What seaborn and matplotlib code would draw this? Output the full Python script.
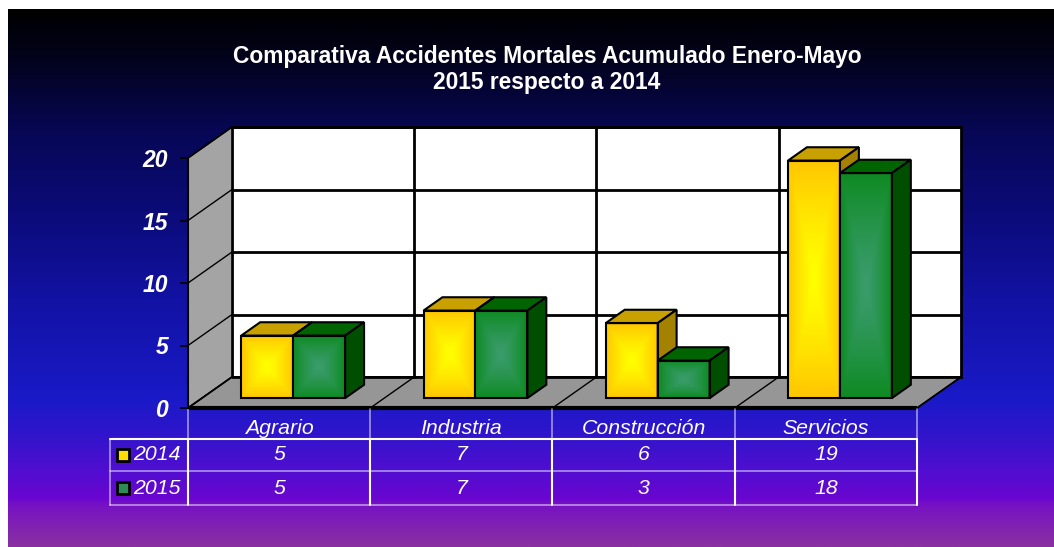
import numpy as np
import pandas as pd
import matplotlib
matplotlib.use("Agg")
import matplotlib.pyplot as plt
import matplotlib.transforms as mtransforms
from matplotlib.colors import LinearSegmentedColormap, to_rgb
from matplotlib.lines import Line2D
from matplotlib.patches import Polygon, Rectangle
import seaborn as sns

# data
categories = ["Agrario", "Industria", "Construcción", "Servicios"]
years = ["2014", "2015"]
values_2014 = [5, 7, 6, 19]
values_2015 = [5, 7, 3, 18]
y_ticks = [0, 5, 10, 15, 20]
title = "Comparativa Accidentes Mortales Acumulado Enero-Mayo\n2015 respecto a 2014"

# layout (pixels of the 1054x547 canvas)
W, H = 1054, 547
PX_CAT = 182.25          # pixels per category on the front plane
PX_UNIT = 12.5           # pixels per value unit
X0_PX, Y0_PX = 188, 408  # front-left corner of the floor
DX = 44 / PX_CAT         # full depth shift, data units
DY = 31 / PX_UNIT
D_FRONT, D_BACK = 0.32, 0.75

face_colors = {"2014": ("#ffff00", "#ffc600"), "2015": ("#3a9c6c", "#0e8a22")}
top_colors = {"2014": "#c8a000", "2015": "#006400"}
side_colors = {"2014": "#a48200", "2015": "#004f00"}
legend_colors = {"2014": "#ffdd00", "2015": "#2e8b57"}

sns.set_theme(style="white")
plt.rcParams["font.family"] = ["Liberation Sans", "DejaVu Sans"]

fig = plt.figure(figsize=(W / 100, H / 100), dpi=100, facecolor="white")

# gradient background
bg = fig.add_axes([8 / W, 0, 1 - 8 / W, 1 - 9 / H])
stops = [(0.0, "#000000"), (0.095, "#03031e"), (0.225, "#070755"), (0.374, "#0b0b78"),
         (0.541, "#1212a4"), (0.727, "#1a1ac8"), (0.801, "#3414cc"), (0.857, "#500ed0"),
         (0.913, "#6a06d0"), (0.924, "#7612c2"), (1.0, "#8a30a2")]
bg.imshow(np.linspace(0, 1, 600)[:, None], aspect="auto",
          cmap=LinearSegmentedColormap.from_list("bg", stops), extent=(0, 1, 0, 1))
bg.axis("off")

ax = fig.add_axes([0, 0, 1, 1])
ax.set_facecolor("none")

df = pd.DataFrame({
    "categoria": categories * 2,
    "anio": [y for y in years for _ in categories],
    "valor": values_2014 + values_2015,
})
sns.barplot(data=df, x="categoria", y="valor", hue="anio", order=categories,
            hue_order=years, width=0.57, saturation=1, legend=False, ax=ax)


def at(x, v, d):
    return (x + d * DX, v + d * DY)


# walls and floor
left, right = -0.5, len(categories) - 0.5
top = y_ticks[-1]
ax.add_patch(Polygon([at(left, 0, 1), at(right, 0, 1), at(right, top, 1), at(left, top, 1)],
                     closed=True, facecolor="white", edgecolor="black", lw=2, zorder=1))
ax.add_patch(Polygon([at(left, 0, 0), at(left, 0, 1), at(left, top, 1), at(left, top, 0)],
                     closed=True, facecolor="#a4a4a4", edgecolor="black", lw=1.2, zorder=1))
ax.add_patch(Polygon([at(left, 0, 0), at(right, 0, 0), at(right, 0, 1), at(left, 0, 1)],
                     closed=True, facecolor="#969696", edgecolor="black", lw=1.2, zorder=1))
for v in y_ticks:
    ax.plot(*zip(at(left, v, 1), at(right, v, 1)), color="black", lw=2, zorder=1.2)
    ax.plot(*zip(at(left, v, 0), at(left, v, 1)), color="black", lw=1, zorder=1.2)
for b in np.arange(len(categories) - 1) + 0.5:
    ax.plot(*zip(at(b, 0, 1), at(b, top, 1)), color="black", lw=2, zorder=1.2)
for b in np.arange(len(categories)) + 0.5:
    ax.plot(*zip(at(b, 0, 0), at(b, 0, 1)), color="black", lw=1, zorder=1.2)
ax.plot([left, right], [0, 0], color="black", lw=3, zorder=1.3, solid_capstyle="butt")

# 3d bars built on the seaborn rectangles
front_tr = mtransforms.Affine2D().translate(D_FRONT * DX, D_FRONT * DY) + ax.transData
u = np.linspace(-1, 1, 80)
t = np.maximum(np.abs(u)[None, :], np.abs(u)[:, None]) ** 1.3
for h, year in enumerate(years):
    c_in, c_out = (np.array(to_rgb(c)) for c in face_colors[year])
    img = c_in + (c_out - c_in) * t[..., None]
    for i, bar in enumerate(ax.containers[h]):
        x0, w, v = bar.get_x(), bar.get_width(), bar.get_height()
        z = 10 + i * 2 + h
        bar.set_transform(front_tr)
        bar.set_facecolor("none")
        bar.set_edgecolor("black")
        bar.set_linewidth(1.5)
        bar.set_zorder(z + 0.3)
        fx, fy0 = at(x0, 0, D_FRONT)
        im = ax.imshow(img, extent=(fx, fx + w, fy0, fy0 + v), aspect="auto",
                       interpolation="bilinear", zorder=z)
        im.set_clip_path(bar)
        ax.add_patch(Polygon([at(x0, v, D_FRONT), at(x0 + w, v, D_FRONT),
                              at(x0 + w, v, D_BACK), at(x0, v, D_BACK)], closed=True,
                             facecolor=top_colors[year], edgecolor="black", lw=1.5, zorder=z + 0.2))
        ax.add_patch(Polygon([at(x0 + w, 0, D_FRONT), at(x0 + w, v, D_FRONT),
                              at(x0 + w, v, D_BACK), at(x0 + w, 0, D_BACK)], closed=True,
                             facecolor=side_colors[year], edgecolor="black", lw=1.5, zorder=z + 0.2))

ax.set_xlim(-0.5 - X0_PX / PX_CAT, -0.5 + (W - X0_PX) / PX_CAT)
ax.set_ylim(-(H - Y0_PX) / PX_UNIT, Y0_PX / PX_UNIT)
ax.set_autoscale_on(False)

# y axis on the front-left edge
for s in ["top", "right", "bottom"]:
    ax.spines[s].set_visible(False)
ax.spines["left"].set_position(("data", left))
ax.spines["left"].set_bounds(0, top)
ax.spines["left"].set_color("black")
ax.spines["left"].set_linewidth(1.5)
ax.set_yticks(y_ticks)
ax.tick_params(axis="y", left=True, length=5.8, width=1.2, color="black", pad=8.5,
               labelcolor="white", labelsize=16.5)
for lab in ax.get_yticklabels():
    lab.set_fontweight("bold")
    lab.set_fontstyle("italic")
ax.set_xticks([])
ax.set_xlabel("")
ax.set_ylabel("")

# data table under the chart
tr = mtransforms.blended_transform_factory(ax.transData, fig.transFigure)


def fy(py):
    return 1 - py / H


label_left = left - (X0_PX - 110) / PX_CAT
bounds = list(np.arange(len(categories) + 1) - 0.5)
soft = dict(color="white", alpha=0.55, lw=1.2)
solid = dict(color="white", lw=1.5)
for b in bounds:
    ax.add_line(Line2D([b, b], [fy(409), fy(439)], transform=tr, clip_on=False, **soft))
    ax.add_line(Line2D([b, b], [fy(439), fy(505)], transform=tr, clip_on=False, **solid))
ax.add_line(Line2D([label_left, label_left], [fy(439), fy(505)], transform=tr, clip_on=False, **soft))
ax.add_line(Line2D([label_left, right], [fy(439), fy(439)], transform=tr, clip_on=False, **solid))
ax.add_line(Line2D([label_left, right], [fy(471), fy(471)], transform=tr, clip_on=False, **soft))
ax.add_line(Line2D([label_left, right], [fy(505), fy(505)], transform=tr, clip_on=False, **soft))

txt = dict(color="white", fontstyle="italic", fontsize=15.3, va="center", transform=tr)
for i, cat in enumerate(categories):
    ax.text(i, fy(428), cat, ha="center", **txt)
for year, vals, py in [("2014", values_2014, 455), ("2015", values_2015, 488)]:
    for i, val in enumerate(vals):
        ax.text(i, fy(py), str(val), ha="center", **txt)
    fig.patches.append(Rectangle((117 / W, fy(py + 6)), 12 / W, 12 / H, transform=fig.transFigure,
                                 facecolor=legend_colors[year], edgecolor="black", lw=2, zorder=5))
    fig.text(133 / W, fy(py), year, color="white", fontstyle="italic", fontsize=15.3, va="center")

fig.text(547 / W, fy(69.5), title, ha="center", va="center", color="white",
         fontsize=16.4, fontweight="bold", linespacing=1.2)

fig.savefig("out.png", dpi=100)
